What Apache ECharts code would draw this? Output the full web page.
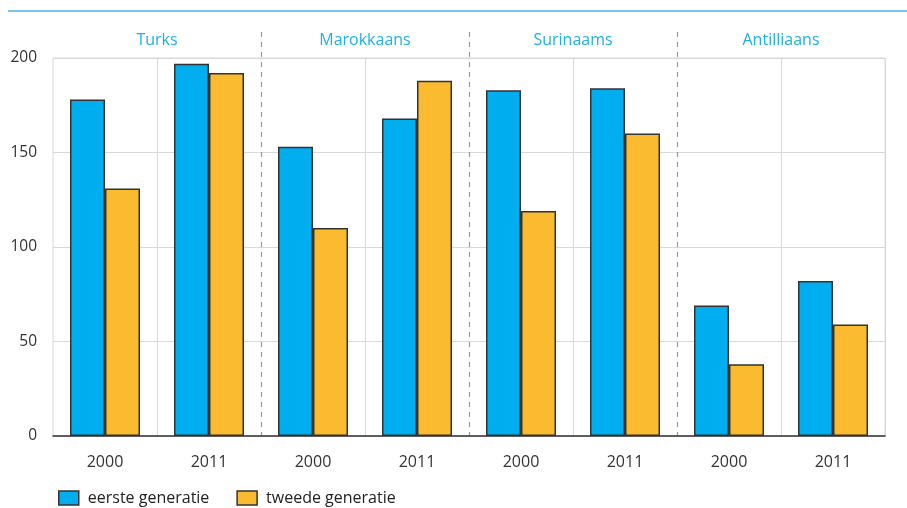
<!DOCTYPE html>
<html><head><meta charset="utf-8">
<script src="https://cdn.jsdelivr.net/npm/echarts@6/dist/echarts.min.js"></script>
<style>html,body{margin:0;padding:0;background:#fff}#c{width:907px;height:508px}</style>
</head><body><div id="c"></div>
<script>
const groups = ['Turks', 'Marokkaans', 'Surinaams', 'Antilliaans'];
const years = ['2000', '2011', '2000', '2011', '2000', '2011', '2000', '2011'];
const eersteGeneratie = [178, 197, 153, 168, 183, 184, 69, 82];
const tweedeGeneratie = [131, 192, 110, 188, 119, 160, 38, 59];
const yTicks = [0, 50, 100, 150, 200];

const FONT = '"Open Sans", Lato, sans-serif';
const chart = echarts.init(document.getElementById('c'));
chart.setOption({
  animation: false,
  textStyle: { fontFamily: FONT },
  graphic: [{ type: 'line', shape: { x1: 8, y1: 11, x2: 907, y2: 11 }, style: { stroke: '#4db3e6', lineWidth: 1.5 } }],
  legend: {
    left: 53, top: 485, itemWidth: 20, itemHeight: 14, itemGap: 27, icon: 'rect',
    textStyle: { fontSize: 16, color: '#222', fontFamily: FONT, padding: [0, 0, 0, 4] },
    data: [
      { name: 'eerste generatie', itemStyle: { color: '#00aeef', borderColor: '#333', borderWidth: 1.5 } },
      { name: 'tweede generatie', itemStyle: { color: '#fbbb30', borderColor: '#333', borderWidth: 1.5 } }
    ]
  },
  grid: [
    { left: 53, right: 22, top: 58, bottom: 72, show: true, borderColor: '#d9d9d9', borderWidth: 1 },
    { left: 53, right: 22, top: 32, bottom: 72 }
  ],
  xAxis: [
    {
      type: 'category', gridIndex: 0, data: years,
      axisLine: { lineStyle: { color: '#333', width: 1.5 } },
      axisTick: { alignWithLabel: true, length: 8, lineStyle: { color: '#333', width: 1.5 } },
      axisLabel: { fontSize: 16, color: '#333', margin: 18 },
      splitLine: { show: true, interval: (i) => i % 2 === 1, lineStyle: { color: '#d9d9d9', width: 1 } }
    },
    {
      type: 'category', gridIndex: 1, data: groups, position: 'top',
      axisLine: { show: false }, axisTick: { show: false },
      axisLabel: { inside: true, fontSize: 16, color: '#1fb0e8', margin: 0, verticalAlign: 'top' },
      splitLine: { show: true, showMinLine: false, showMaxLine: false, lineStyle: { color: '#999', type: [5, 5], width: 1.2 } }
    }
  ],
  yAxis: [
    {
      type: 'value', gridIndex: 0, min: 0, max: 200, interval: 50,
      axisLine: { show: false }, axisTick: { show: false },
      axisLabel: { fontSize: 15.5, color: '#333', margin: 16, verticalAlign: 'middle', padding: [0, 0, 4, 0], formatter: (v) => yTicks.includes(v) ? String(v) : '' },
      splitLine: { lineStyle: { color: '#d9d9d9', width: 1 } }
    },
    { type: 'value', gridIndex: 1, show: false, min: 0, max: 1 }
  ],
  series: [
    {
      name: 'eerste generatie', type: 'bar', xAxisIndex: 0, yAxisIndex: 0,
      data: eersteGeneratie, barWidth: 35, barGap: '0%',
      itemStyle: { color: '#00aeef', borderColor: '#333', borderWidth: 1.5 }
    },
    {
      name: 'tweede generatie', type: 'bar', xAxisIndex: 0, yAxisIndex: 0,
      data: tweedeGeneratie, barWidth: 35, barGap: '0%',
      itemStyle: { color: '#fbbb30', borderColor: '#333', borderWidth: 1.5 }
    }
  ]
});
</script></body></html>
